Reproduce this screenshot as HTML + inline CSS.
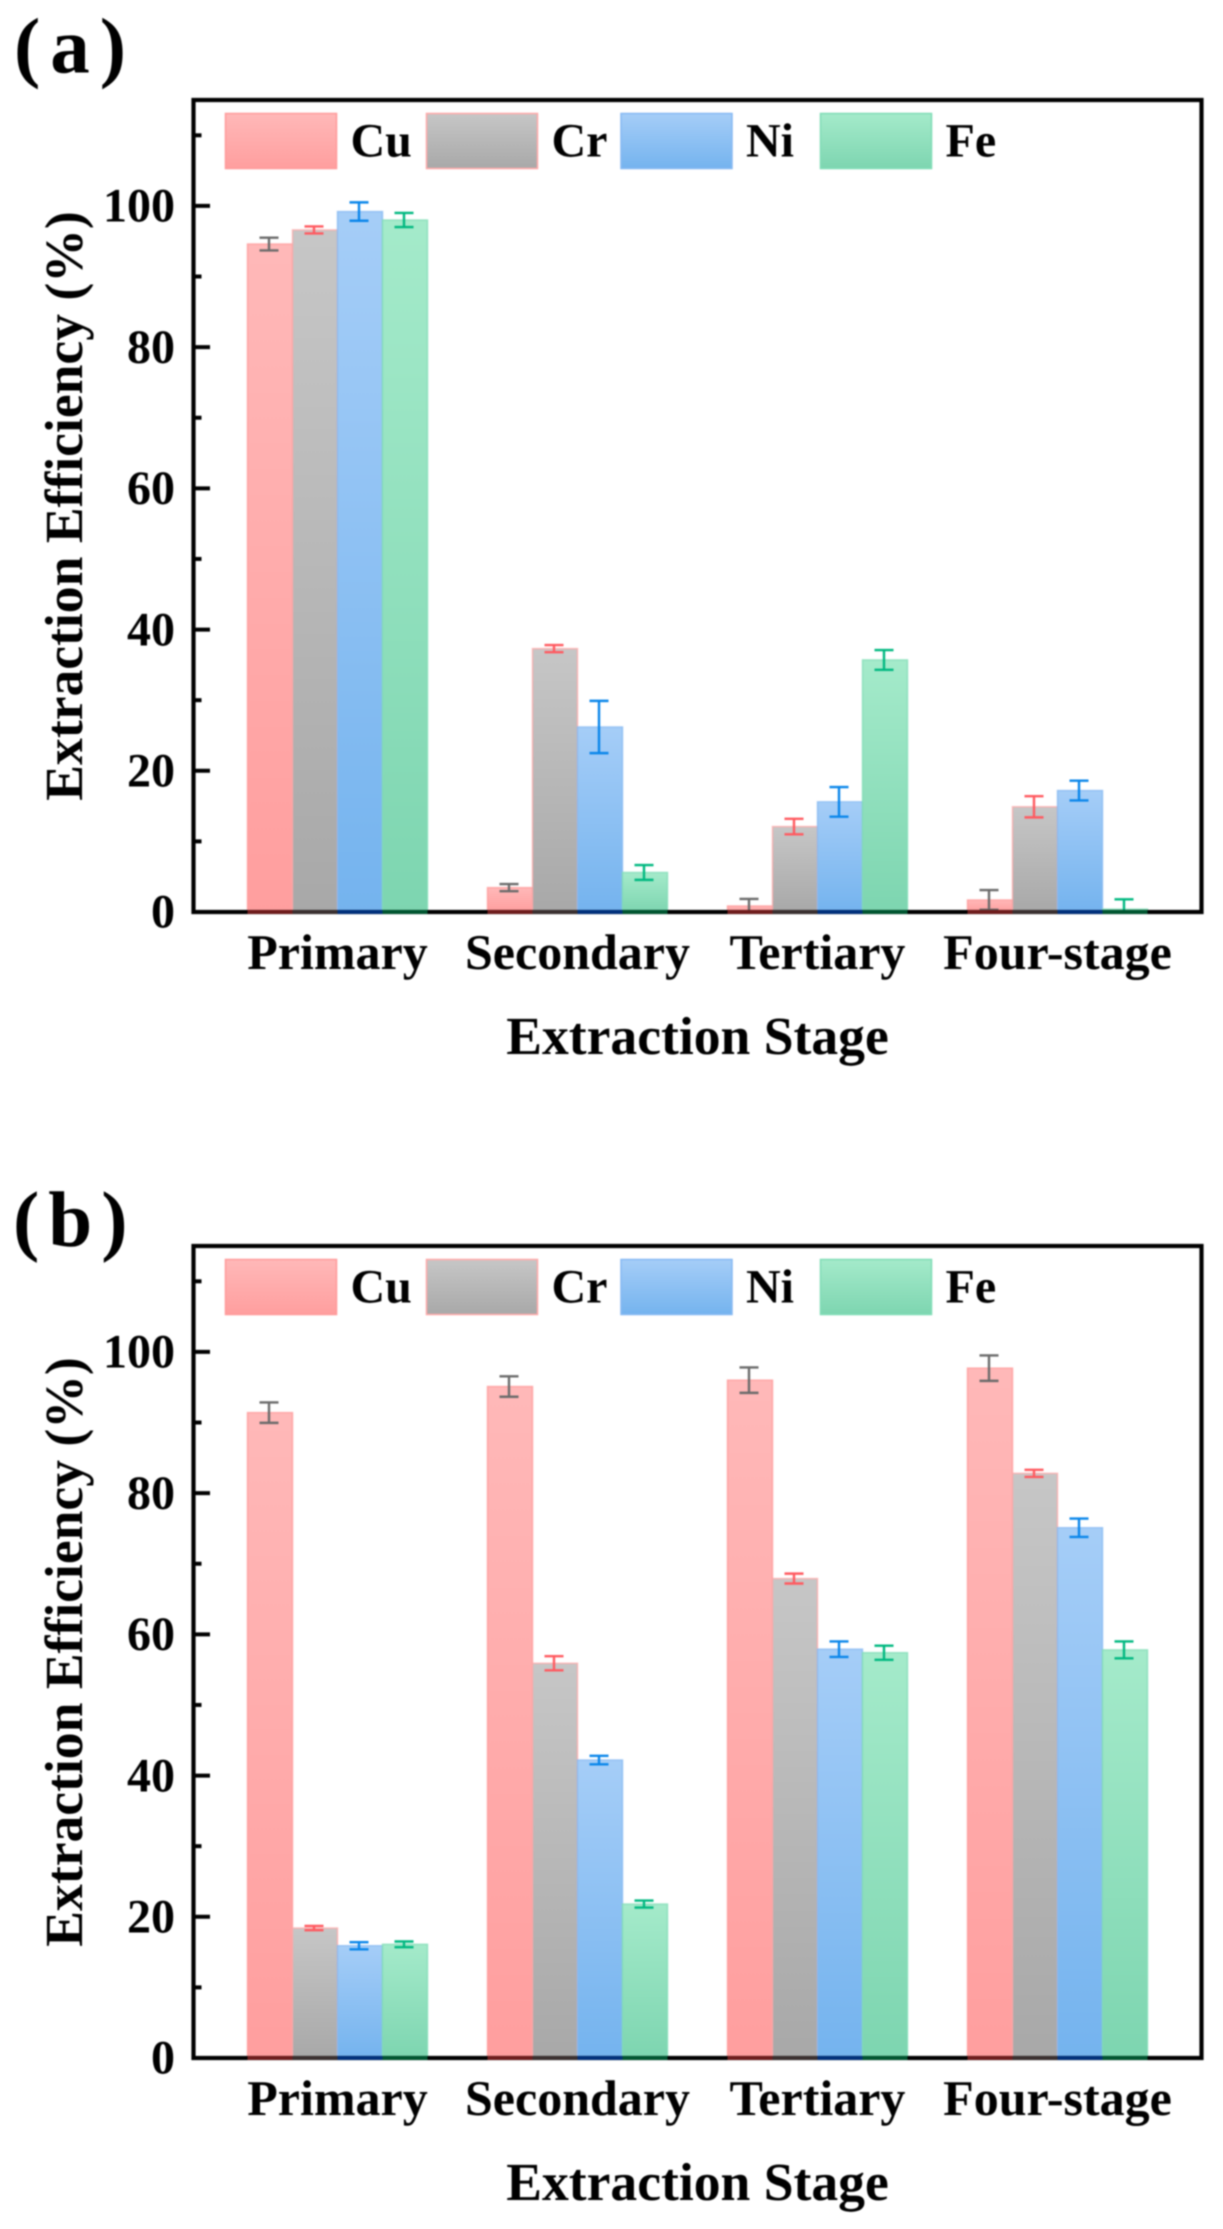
<!DOCTYPE html>
<html lang="en">
<head>
<meta charset="utf-8">
<title>Extraction Efficiency by Stage</title>
<style>
  html, body { margin: 0; padding: 0; background: #fff; }
  svg { display: block; filter: blur(0.75px); }
  text { font-family: "Liberation Serif", "Times New Roman", serif; font-weight: bold; fill: #000; text-rendering: geometricPrecision; }
</style>
</head>
<body>
<svg id="figure" xmlns="http://www.w3.org/2000/svg" width="1223" height="2229" viewBox="0 0 1223 2229">
  <defs>
    <linearGradient id="grad-cu" x1="0" y1="0" x2="0" y2="1"><stop offset="0" stop-color="#ffb8b8"/><stop offset="1" stop-color="#ff9e9e"/></linearGradient>
    <linearGradient id="grad-cr" x1="0" y1="0" x2="0" y2="1"><stop offset="0" stop-color="#c6c6c6"/><stop offset="1" stop-color="#a8a8a8"/></linearGradient>
    <linearGradient id="grad-ni" x1="0" y1="0" x2="0" y2="1"><stop offset="0" stop-color="#a5cdf7"/><stop offset="1" stop-color="#74b3ee"/></linearGradient>
    <linearGradient id="grad-fe" x1="0" y1="0" x2="0" y2="1"><stop offset="0" stop-color="#a4eaca"/><stop offset="1" stop-color="#7dd5b0"/></linearGradient>
  </defs>
</svg>
<script>
// ---------- data ----------
var categories = ["Primary", "Secondary", "Tertiary", "Four-stage"];
var seriesNames = ["Cu", "Cr", "Ni", "Fe"];
var majorTicks = [0, 20, 40, 60, 80, 100];
var minorTicks = [10, 30, 50, 70, 90, 110];

var cuA = [94.6, 3.45, 0.85, 1.7];
var crA = [96.6, 37.3, 12.1, 14.9];
var niA = [99.2, 26.2, 15.6, 17.2];
var feA = [98.0, 5.6, 35.7, 0.4];
var cuErrA = [0.9, 0.5, 1.0, 1.4];
var crErrA = [0.5, 0.5, 1.1, 1.5];
var niErrA = [1.3, 3.7, 2.1, 1.4];
var feErrA = [1.0, 1.05, 1.4, 1.4];

var cuB = [91.4, 95.1, 96.0, 97.7];
var crB = [18.4, 55.9, 67.9, 82.8];
var niB = [15.9, 42.2, 57.9, 75.1];
var feB = [16.1, 21.8, 57.4, 57.8];
var cuErrB = [1.45, 1.45, 1.8, 1.8];
var crErrB = [0.3, 1.0, 0.7, 0.5];
var niErrB = [0.5, 0.6, 1.1, 1.3];
var feErrB = [0.4, 0.5, 1.0, 1.2];

// ---------- layout & style ----------
var seriesKeys = ["cu", "cr", "ni", "fe"];
var barEdge = ["#ff9a9a", "#ffa8a8", "#86b8f2", "#80dcb6"];
var baseStrip = ["#6e1c1c", "#3a3030", "#00307a", "#005530"];
var errColor = ["#6b6b6b", "#ff5a60", "#0a86ea", "#00b880"];
var legendLeft = [225.5, 426.5, 621, 820.5];
var legendWidth = 111;
var plotLeft = 193.5, plotRight = 1201.5, plotHeight = 812, yMax = 115;
var groupStart = 247.5, groupStep = 240, barWidth = 45;

var svg = document.getElementById("figure");
var NS = "http://www.w3.org/2000/svg";

function mk(tag, attrs, parent, txt) {
  var el = document.createElementNS(NS, tag);
  for (var k in attrs) el.setAttribute(k, attrs[k]);
  if (txt !== undefined) el.textContent = txt;
  parent.appendChild(el);
  return el;
}

function drawPanel(cfg) {
  var base = cfg.base, top = base - plotHeight;
  var yScale = function (v) { return base - v * plotHeight / yMax; };
  var xScale = function (groupIndex, seriesIndex) { return groupStart + groupStep * groupIndex + barWidth * seriesIndex; };
  var catCenter = function (groupIndex) { return xScale(groupIndex, 2); };

  var g = mk("g", {}, svg);
  
  

  var clip = mk("clipPath", { id: cfg.name + "-clip" }, svg);
  mk("rect", { x: plotLeft, y: top, width: plotRight - plotLeft, height: plotHeight }, clip);

  var label = mk("text", { x: cfg.labelX, y: cfg.labelY, "font-size": 79, "letter-spacing": cfg.labelSpacing }, g, cfg.label);
  
  

  // bars
  cfg.values.forEach(function (vals, s) {
    vals.forEach(function (v, c) {
      var x = xScale(c, s), y = yScale(v);
      var bar = mk("rect", { x: x, y: y, width: barWidth, height: base - y, fill: "url(#grad-" + seriesKeys[s] + ")", stroke: barEdge[s], "stroke-opacity": 0.75, "stroke-width": 1.5 }, g);
      
      
    });
  });

  // error bars (clipped to the plot area)
  var errGroup = mk("g", { "clip-path": "url(#" + cfg.name + "-clip)" }, g);
  
  
  cfg.values.forEach(function (vals, s) {
    vals.forEach(function (v, c) {
      var cx = xScale(c, s) + barWidth / 2 - 1;
      var hi = yScale(v + cfg.errors[s][c]), lo = yScale(v - cfg.errors[s][c]);
      var eg = mk("g", { stroke: errColor[s], "stroke-width": 2.4, fill: "none" }, errGroup);
      
      
      mk("line", { x1: cx, x2: cx, y1: hi, y2: lo }, eg);
      mk("line", { x1: cx - 9.5, x2: cx + 9.5, y1: hi, y2: hi }, eg);
      mk("line", { x1: cx - 9.5, x2: cx + 9.5, y1: lo, y2: lo }, eg);
    });
  });

  // plot frame
  var frame = mk("rect", { x: plotLeft, y: top, width: plotRight - plotLeft, height: plotHeight, fill: "none", stroke: "#000", "stroke-width": 4.2 }, g);
  
  

  // tinted strip where bars overlap the x axis
  cfg.values.forEach(function (vals, s) {
    vals.forEach(function (v, c) {
      var strip = mk("rect", { x: xScale(c, s), y: base - 2, width: barWidth, height: 4, fill: baseStrip[s] }, g);
      
      
    });
  });

  // y ticks
  majorTicks.forEach(function (t) {
    var y = yScale(t);
    var tick = mk("line", { x1: plotLeft, x2: plotLeft + 16.5, y1: y, y2: y, stroke: "#000", "stroke-width": 4 }, g);
    
    
    var tl = mk("text", { x: 175, y: y + 15.7, "font-size": 48, "text-anchor": "end" }, g, String(t));
    
    
  });
  minorTicks.forEach(function (t) {
    var y = yScale(t);
    var tick = mk("line", { x1: plotLeft, x2: plotLeft + 8, y1: y, y2: y, stroke: "#000", "stroke-width": 4 }, g);
    
    
  });

  // category labels
  categories.forEach(function (name, c) {
    var cl = mk("text", { x: catCenter(c), y: base + 57, "font-size": 50, "text-anchor": "middle" }, g, name);
    
    
  });

  // axis titles
  var xt = mk("text", { x: 697.5, y: base + 142, "font-size": 53.6, "text-anchor": "middle" }, g, "Extraction Stage");
  
  
  var ymid = (top + base) / 2;
  var yt = mk("text", { x: 0, y: 0, "font-size": 53.6, "text-anchor": "middle", transform: "translate(82 " + ymid + ") rotate(-90)" }, g, "Extraction Efficiency (%)");
  
  

  // legend
  seriesNames.forEach(function (name, s) {
    var lg = mk("g", {}, g);
    
    
    mk("rect", { x: legendLeft[s], y: top + 13.5, width: legendWidth, height: 55, fill: "url(#grad-" + seriesKeys[s] + ")", stroke: barEdge[s], "stroke-width": 1.5 }, lg);
    mk("text", { x: legendLeft[s] + 125, y: top + 56.7, "font-size": 48 }, lg, name);
  });
}

drawPanel({
  name: "panel-a", label: "(a)", labelX: 14, labelY: 72.7, labelSpacing: 10, base: 912,
  values: [cuA, crA, niA, feA],
  errors: [cuErrA, crErrA, niErrA, feErrA]
});
drawPanel({
  name: "panel-b", label: "(b)", labelX: 13, labelY: 1246, labelSpacing: 9, base: 2058,
  values: [cuB, crB, niB, feB],
  errors: [cuErrB, crErrB, niErrB, feErrB]
});
</script>
</body>
</html>
